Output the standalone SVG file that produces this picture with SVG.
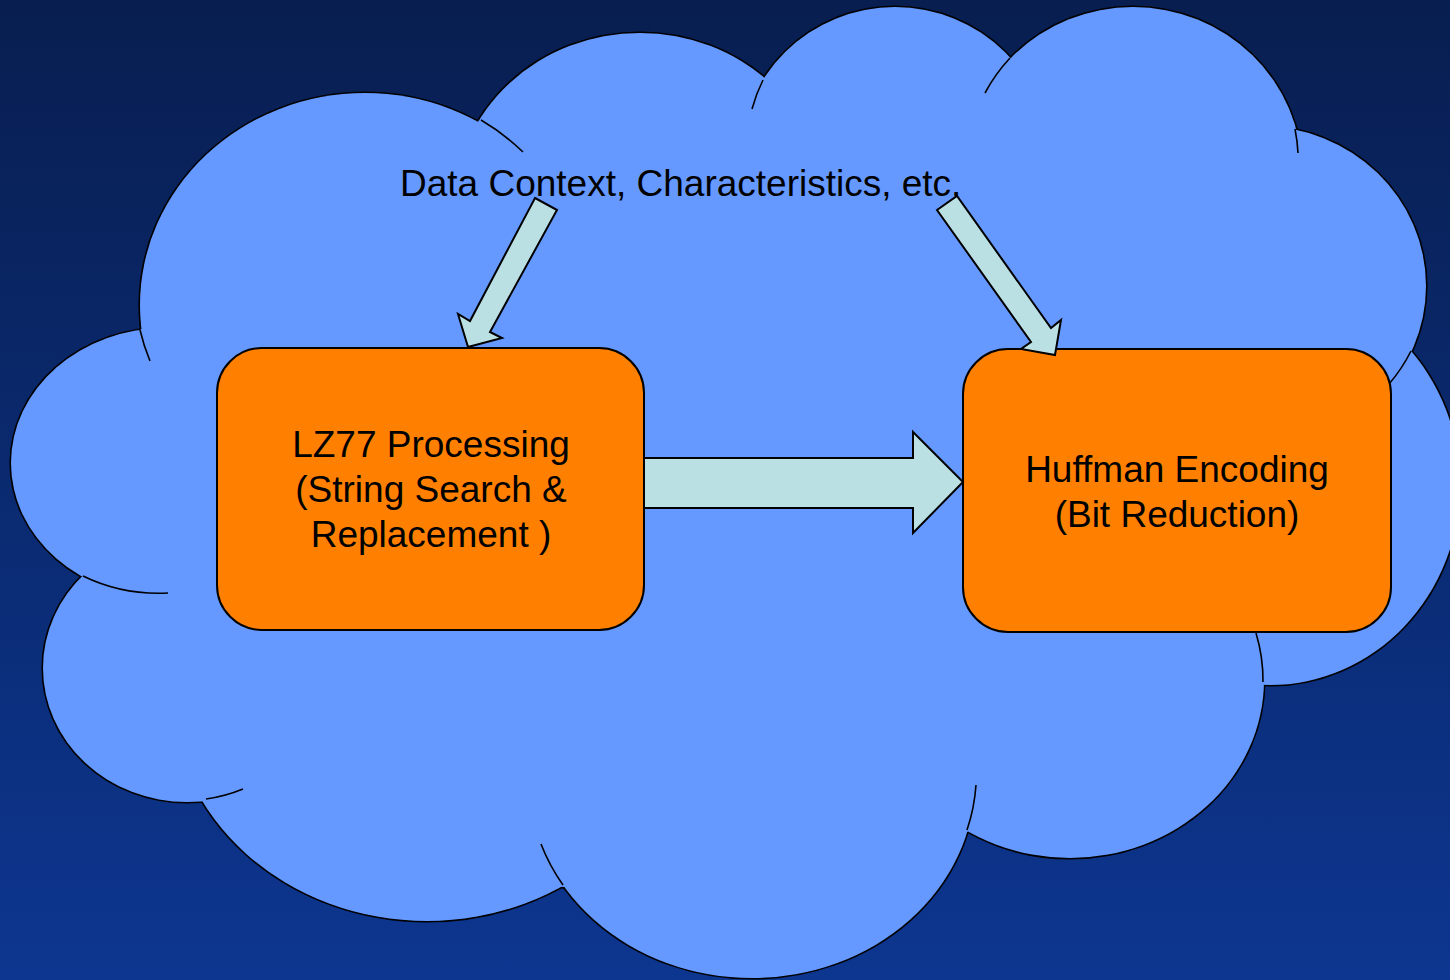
<svg xmlns="http://www.w3.org/2000/svg" xmlns:xlink="http://www.w3.org/1999/xlink" width="1450" height="980" viewBox="0 0 1450 980">
  <defs>
    <linearGradient id="bg" x1="0" y1="0" x2="0" y2="1">
      <stop offset="0" stop-color="#081E50"/>
      <stop offset="1" stop-color="#0D3690"/>
    </linearGradient>
    <!-- cloud lobes; paint is inherited from the <use> that places them -->
    <g id="lobes">
      <ellipse cx="166" cy="463" rx="155" ry="135"/>
      <ellipse cx="365" cy="305" rx="225" ry="212"/>
      <ellipse cx="640" cy="205" rx="185" ry="172"/>
      <ellipse cx="895" cy="160" rx="155" ry="153"/>
      <ellipse cx="1133" cy="172" rx="169" ry="165"/>
      <ellipse cx="1260" cy="286" rx="166" ry="160"/>
      <ellipse cx="1270" cy="485" rx="190" ry="200"/>
      <ellipse cx="1070" cy="680" rx="194" ry="178"/>
      <ellipse cx="752" cy="780" rx="223" ry="198"/>
      <ellipse cx="427" cy="691" rx="256" ry="230"/>
      <ellipse cx="187" cy="668" rx="144" ry="134"/>
      <polygon points="140,330 481,120 763,80 1010,58 1295,129 1411,351 1263,682 967,832 563,887 206,801 83,577"/>
    </g>
  </defs>
  <style>
    .crease { fill: none; stroke: #000; stroke-width: 1.6; }
    .box { fill: #FF8000; stroke: #000; stroke-width: 2; }
    .arrow { fill: #BBE0E3; stroke: #000; stroke-width: 2; stroke-linejoin: miter; }
    .label { font-family: "Liberation Sans", Arial, sans-serif; font-size: 37px; fill: #000; }
    .center { text-anchor: middle; }
  </style>

  <rect x="0" y="0" width="1450" height="980" fill="url(#bg)"/>

  <!-- cloud: outlined lobes, then an unstroked copy on top so only the outer rim keeps its line -->
  <g id="cloud">
    <use xlink:href="#lobes" fill="#6699FF" stroke="#000" stroke-width="3.2"/>
    <use xlink:href="#lobes" fill="#6699FF" stroke="none"/>
    <g id="cloud-creases">
      <path class="crease" d="M140,330 A225,212 0 0 0 150,361"/>
      <path class="crease" d="M481,120 A225,212 0 0 1 523,152"/>
      <path class="crease" d="M763,80 A155,153 0 0 0 752,109"/>
      <path class="crease" d="M1010,58 A169,165 0 0 0 985,93"/>
      <path class="crease" d="M1295,129 A169,165 0 0 1 1298,153"/>
      <path class="crease" d="M1411,351 A166,160 0 0 1 1389,384"/>
      <path class="crease" d="M1263,682 A194,178 0 0 0 1256,633"/>
      <path class="crease" d="M967,830 A223,198 0 0 0 976,785"/>
      <path class="crease" d="M563,885 A223,198 0 0 1 541,844"/>
      <path class="crease" d="M206,799 A144,134 0 0 0 243,789"/>
      <path class="crease" d="M83,576 A155,135 0 0 0 168,593"/>
    </g>
  </g>

  <g id="context-label">
    <text class="label" x="400" y="196">Data Context, Characteristics, etc.</text>
  </g>

  <g id="lz77">
    <rect class="box" x="217" y="348" width="427" height="282" rx="45" ry="45"/>
    <text class="label center" x="431" y="457">LZ77 Processing</text>
    <text class="label center" x="431" y="502">(String Search &amp;</text>
    <text class="label center" x="431" y="547">Replacement )</text>
  </g>

  <g id="huffman">
    <rect class="box" x="963" y="349" width="428" height="283" rx="45" ry="45"/>
    <text class="label center" x="1177" y="482">Huffman Encoding</text>
    <text class="label center" x="1177" y="527">(Bit Reduction)</text>
  </g>

  <g id="connectors">
    <polygon class="arrow" points="535,198 557,210 490,332 502,338 468,347 458,314 470,321"/>
    <polygon class="arrow" points="937,210 957,196 1051,328 1061,320 1055,355 1021,349 1031,342"/>
    <polygon class="arrow" points="644,458 913,458 913,432 963,482 913,533 913,508 644,508"/>
  </g>
</svg>
